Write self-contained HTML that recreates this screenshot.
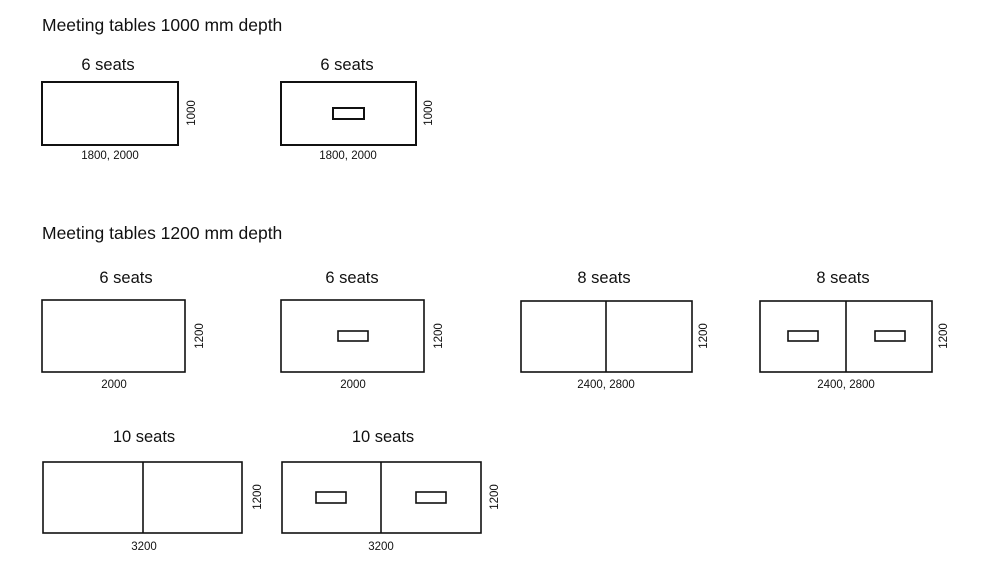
<!DOCTYPE html>
<html><head><style>body{margin:0;background:#fff}svg{display:block}text{font-family:"Liberation Sans",sans-serif;fill:#111}</style></head><body>
<svg width="1000" height="578" viewBox="0 0 1000 578" xmlns="http://www.w3.org/2000/svg">
<g font-size="17.5"><text x="42" y="31">Meeting tables 1000 mm depth</text><text x="42" y="239">Meeting tables 1200 mm depth</text></g>
<g font-size="16.5" text-anchor="middle">
<text x="108" y="70">6 seats</text><text x="347" y="70">6 seats</text>
<text x="126" y="283">6 seats</text><text x="352" y="283">6 seats</text><text x="604" y="283">8 seats</text><text x="843" y="283">8 seats</text>
<text x="144" y="442">10 seats</text><text x="383" y="442">10 seats</text></g>
<g font-size="11.5" text-anchor="middle">
<text x="110" y="159">1800, 2000</text><text x="348" y="159">1800, 2000</text>
<text x="114" y="388">2000</text><text x="353" y="388">2000</text><text x="606" y="388">2400, 2800</text><text x="846" y="388">2400, 2800</text>
<text x="144" y="550">3200</text><text x="381" y="550">3200</text>
<text transform="translate(195,113) rotate(-90)">1000</text><text transform="translate(432,113) rotate(-90)">1000</text>
<text transform="translate(203,336) rotate(-90)">1200</text><text transform="translate(442,336) rotate(-90)">1200</text>
<text transform="translate(707,336) rotate(-90)">1200</text><text transform="translate(947,336) rotate(-90)">1200</text>
<text transform="translate(261,497) rotate(-90)">1200</text><text transform="translate(498,497) rotate(-90)">1200</text></g>
<g fill="none" stroke="#111" stroke-width="2">
<rect x="42" y="82" width="136" height="63"/><rect x="281" y="82" width="135" height="63"/><rect x="333" y="108" width="31" height="11"/></g>
<g fill="none" stroke="#111" stroke-width="1.6">
<rect x="42" y="300" width="143" height="72"/>
<rect x="281" y="300" width="143" height="72"/><rect x="338" y="331" width="30" height="10"/>
<rect x="521" y="301" width="171" height="71"/><line x1="606" y1="301" x2="606" y2="372"/>
<rect x="760" y="301" width="172" height="71"/><line x1="846" y1="301" x2="846" y2="372"/><rect x="788" y="331" width="30" height="10"/><rect x="875" y="331" width="30" height="10"/>
<rect x="43" y="462" width="199" height="71"/><line x1="143" y1="462" x2="143" y2="533"/>
<rect x="282" y="462" width="199" height="71"/><line x1="381" y1="462" x2="381" y2="533"/><rect x="316" y="492" width="30" height="11"/><rect x="416" y="492" width="30" height="11"/>
</g></svg></body></html>
